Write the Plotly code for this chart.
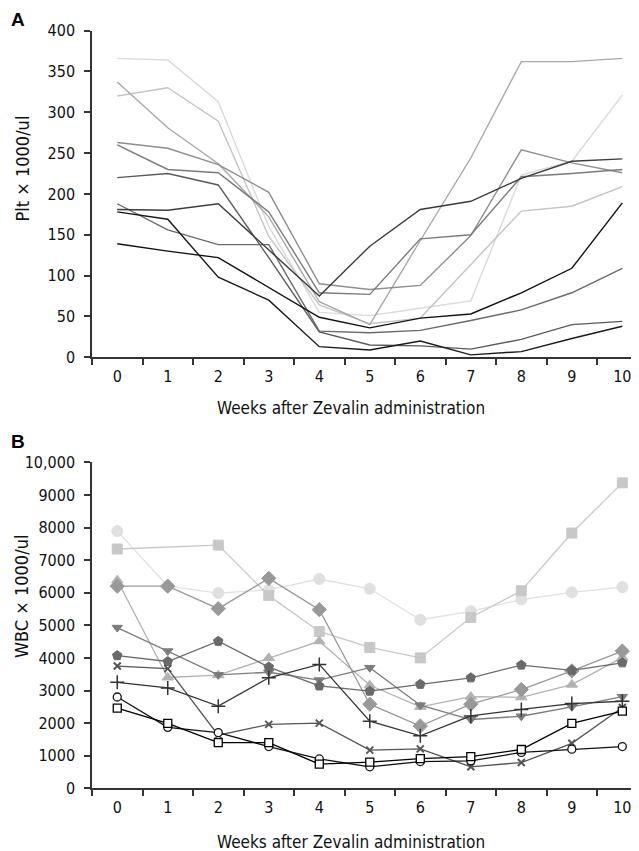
import plotly.graph_objects as go

weeks = ["0", "1", "2", "3", "4", "5", "6", "7", "8", "9", "10"]

# Panel A: platelets (x1000/ul)
plt_p1 = [366, 364, 313, 160, 55, 51, 60, 69, 223, 240, 321]
plt_p2 = [320, 330, 289, 148, 64, 41, 48, 114, 179, 185, 209]
plt_p3 = [337, 281, 237, 172, 68, 40, 143, 244, 362, 362, 366]
plt_p4 = [263, 256, 236, 202, 90, 83, 88, 149, 254, 238, 226]
plt_p5 = [260, 230, 226, 178, 79, 77, 145, 150, 221, 225, 230]
plt_p6 = [220, 225, 211, 122, 31, 15, 14, 10, 22, 40, 44]
plt_p7 = [188, 156, 138, 138, 32, 30, 33, 45, 58, 79, 109]
plt_p8 = [181, 180, 188, 132, 75, 136, 181, 191, 219, 240, 243]
plt_p9 = [178, 169, 98, 70, 13, 9, 20, 3, 7, 23, 38]
plt_p10 = [139, 130, 122, 86, 49, 36, 48, 53, 79, 109, 189]

# Panel B: WBC (x1000/ul)
wbc_circle = [7890, 6200, 5990, 6090, 6420, 6120, 5170, 5430, 5790, 6010, 6170]
wbc_square = [7340, None, 7460, 5910, 4810, 4320, 4000, 5240, 6060, 7830, 9370]
wbc_triup = [6380, 3400, 3470, 4000, 4510, 3160, 2500, 2810, 2790, 3180, 4010]
wbc_diamond = [6200, 6200, 5510, 6440, 5480, 2580, 1910, 2580, 3030, 3600, 4210]
wbc_tridown = [4930, 4210, 3480, 3560, 3320, 3700, 2550, 2110, 2210, 2500, 2810]
wbc_penta = [4070, 3890, 4510, 3720, 3140, 2980, 3190, 3390, 3780, 3620, 3850]
wbc_x = [3750, 3670, 1630, 1960, 2000, 1170, 1210, 660, 790, 1380, 2480]
wbc_plus = [3250, 3080, 2520, 3390, 3800, 2060, 1610, 2220, 2420, 2600, 2670]
wbc_ocircle = [2800, 1870, 1710, 1280, 900, 660, 820, 840, 1100, 1200, 1280]
wbc_osquare = [2460, 1990, 1400, 1400, 740, 800, 910, 970, 1190, 1990, 2370]

y_ticks_a = [0, 50, 100, 150, 200, 250, 300, 350, 400]
y_ticks_b = [0, 1000, 2000, 3000, 4000, 5000, 6000, 7000, 8000, 9000, 10000]
y_ticktext_b = ["0", "1000", "2000", "3000", "4000", "5000", "6000", "7000", "8000", "9000", "10,000"]

FONT = "DejaVu Sans Condensed, Liberation Sans Narrow, Arial Narrow, sans-serif"
AXC = "#333333"

fig = go.Figure()

plt_series = [
    (plt_p1, "#dadada"), (plt_p2, "#c4c4c4"), (plt_p3, "#a8a8a8"),
    (plt_p4, "#8e8e8e"), (plt_p5, "#7a7a7a"), (plt_p6, "#5a5a5a"),
    (plt_p7, "#6a6a6a"), (plt_p8, "#3c3c3c"), (plt_p9, "#1a1a1a"),
    (plt_p10, "#111111"),
]
for vals, col in plt_series:
    fig.add_trace(go.Scatter(x=weeks, y=vals, mode="lines",
                             line=dict(color=col, width=1.4),
                             xaxis="x", yaxis="y", showlegend=False))

wbc_series = [
    (wbc_circle, "#e0e0e0", "circle", 11, "#e0e0e0"),
    (wbc_square, "#c8c8c8", "square", 10, "#c8c8c8"),
    (wbc_triup, "#b2b2b2", "triangle-up", 10, "#b2b2b2"),
    (wbc_diamond, "#999999", "diamond", 11, "#999999"),
    (wbc_tridown, "#7c7c7c", "triangle-down", 9, "#7c7c7c"),
    (wbc_penta, "#6a6a6a", "pentagon", 10, "#6a6a6a"),
]
for vals, col, sym, sz, fill in wbc_series:
    fig.add_trace(go.Scatter(x=weeks, y=vals, mode="lines+markers", connectgaps=True,
                             line=dict(color=col, width=1.3),
                             marker=dict(symbol=sym, size=sz, color=fill,
                                         line=dict(color=col, width=1)),
                             cliponaxis=False,
                             xaxis="x2", yaxis="y2", showlegend=False))

fig.add_trace(go.Scatter(x=weeks, y=wbc_x, mode="lines+markers",
                         line=dict(color="#555555", width=1.3),
                         marker=dict(symbol="x-thin-open", size=7,
                                     line=dict(color="#555555", width=2)),
                         cliponaxis=False, xaxis="x2", yaxis="y2", showlegend=False))
fig.add_trace(go.Scatter(x=weeks, y=wbc_plus, mode="lines+markers",
                         line=dict(color="#333333", width=1.3),
                         marker=dict(symbol="cross-thin-open", size=10,
                                     line=dict(color="#333333", width=1.5)),
                         cliponaxis=False, xaxis="x2", yaxis="y2", showlegend=False))
fig.add_trace(go.Scatter(x=weeks, y=wbc_ocircle, mode="lines+markers",
                         line=dict(color="#111111", width=1.3),
                         marker=dict(symbol="circle", size=8, color="white",
                                     line=dict(color="#111111", width=1.3)),
                         cliponaxis=False, xaxis="x2", yaxis="y2", showlegend=False))
fig.add_trace(go.Scatter(x=weeks, y=wbc_osquare, mode="lines+markers",
                         line=dict(color="#000000", width=1.3),
                         marker=dict(symbol="square", size=8, color="white",
                                     line=dict(color="#000000", width=1.3)),
                         cliponaxis=False, xaxis="x2", yaxis="y2", showlegend=False))

# page body has an 8px default margin: draw an 8px-smaller figure, shift targets by 8
OFF = 8.0
W = 639.0 - OFF
H = 851.0 - OFF
L = 92.0 - OFF
PW = W - L

def py(p):
    return (H - (p - OFF)) / H

def px(p):
    return ((p - OFF) - L) / PW

xcommon = dict(type="category", range=[-0.5, 10.33], tickson="boundaries",
               ticks="outside", ticklen=6, tickwidth=1.5, tickcolor=AXC,
               showline=True, linecolor=AXC, linewidth=1.5, showgrid=False,
               zeroline=False, tickfont=dict(family=FONT, size=16, color="#111"),
               ticklabelstandoff=4, automargin=False)
ycommon = dict(ticks="outside", ticklen=6, tickwidth=1.5, tickcolor=AXC,
               showline=True, linecolor=AXC, linewidth=1.5, showgrid=False,
               zeroline=False, tickfont=dict(family=FONT, size=16, color="#111"),
               ticklabelstandoff=6, automargin=False)

ann_common = dict(xref="paper", yref="paper", showarrow=False,
                  xanchor="center", yanchor="middle")

fig.update_layout(
    width=int(W), height=int(H),
    margin=dict(l=L, r=0, t=0, b=0, autoexpand=False),
    paper_bgcolor="white", plot_bgcolor="white",
    xaxis=dict(domain=[0, 1], anchor="y", **xcommon),
    yaxis=dict(domain=[py(357.3), py(30.6)], range=[0, 400], anchor="x",
               tickmode="array", tickvals=y_ticks_a, **ycommon),
    xaxis2=dict(domain=[0, 1], anchor="y2", **xcommon),
    yaxis2=dict(domain=[py(788.3), py(462.3)], range=[0, 10000], anchor="x2",
                tickmode="array", tickvals=y_ticks_b, ticktext=y_ticktext_b, **ycommon),
    annotations=[
        dict(text="<b>A</b>", x=px(18), y=py(20), **ann_common,
             font=dict(family="Liberation Sans, Arial, sans-serif", size=19, color="#000")),
        dict(text="<b>B</b>", x=px(18), y=py(441), **ann_common,
             font=dict(family="Liberation Sans, Arial, sans-serif", size=19, color="#000")),
        dict(text="Plt × 1000/ul", x=px(21.5), y=py(169), textangle=-90, **ann_common,
             font=dict(family=FONT, size=18, color="#111")),
        dict(text="WBC × 1000/ul", x=px(21.5), y=py(596.5), textangle=-90, **ann_common,
             font=dict(family=FONT, size=18, color="#111")),
        dict(text="Weeks after Zevalin administration", x=px(351), y=py(408), **ann_common,
             font=dict(family=FONT, size=17, color="#111")),
        dict(text="Weeks after Zevalin administration", x=px(351), y=py(842), **ann_common,
             font=dict(family=FONT, size=17, color="#111")),
    ],
)

fig.write_html("out.html")
